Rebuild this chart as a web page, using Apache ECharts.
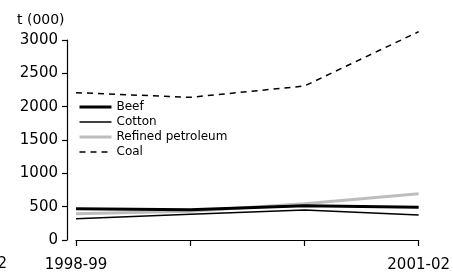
<!DOCTYPE html>
<html><head><meta charset="utf-8">
<script src="https://cdn.jsdelivr.net/npm/echarts@6/dist/echarts.min.js"></script>
<style>html,body{margin:0;padding:0;background:#fff}#c{width:453px;height:273px}</style>
</head><body><div id="c"></div>
<script>
const categories = ['1998-99', '1999-00', '2000-01', '2001-02'];
const beef = [470, 455, 515, 490];
const cotton = [320, 385, 450, 375];
const refined = [395, 430, 545, 695];
const coal = [2210, 2140, 2310, 3125];
const yTicks = [0, 500, 1000, 1500, 2000, 2500, 3000];

const font = 'DejaVu Sans';
const chart = echarts.init(document.getElementById('c'));
chart.setOption({
  animation: false,
  textStyle: {fontFamily: font},
  grid: {left: 76, right: 31, top: 40, bottom: 33},
  legend: {
    orient: 'vertical', left: 73, top: 96, itemGap: 3,
    itemWidth: 32, itemHeight: 12, itemStyle: {opacity: 0},
    textStyle: {fontFamily: font, fontSize: 12, color: '#000'},
    data: [
      {name: 'Beef', lineStyle: {color: '#000', width: 3, type: 'solid'}},
      {name: 'Cotton', lineStyle: {color: '#000', width: 1.5, type: 'solid'}},
      {name: 'Refined petroleum', lineStyle: {color: '#bdbdbd', width: 3, type: 'solid'}},
      {name: 'Coal', lineStyle: {color: '#000', width: 1.5, type: [6, 5]}}
    ]
  },
  graphic: [
    {type: 'text', left: 17, top: 13, style: {text: 't (000)', font: '14px ' + font, fill: '#000'}},
    {type: 'text', x: 7, y: 257, style: {text: '2001-02', font: '15px ' + font, fill: '#000', align: 'right'}}
  ],
  xAxis: {
    type: 'category', data: categories, boundaryGap: false, offset: 8,
    axisLine: {lineStyle: {color: '#000', width: 1.2}},
    axisTick: {inside: false, length: 6, interval: 0, lineStyle: {color: '#000', width: 1.2}},
    axisLabel: {interval: 2, color: '#000', fontSize: 15, fontFamily: font, margin: 10},
    splitLine: {show: false}
  },
  yAxis: {
    type: 'value', min: yTicks[0], max: yTicks[yTicks.length - 1], interval: 500, offset: 9,
    axisLine: {show: true, lineStyle: {color: '#000', width: 1.2}},
    axisTick: {show: true, length: 5, lineStyle: {color: '#000', width: 1.2}},
    axisLabel: {color: '#000', fontSize: 15, fontFamily: font, margin: 9, formatter: v => String(v)},
    splitLine: {show: false}
  },
  series: [
    {name: 'Beef', type: 'line', data: beef, symbol: 'none', clip: false, lineStyle: {color: '#000', width: 3}, itemStyle: {color: '#000'}, z: 4},
    {name: 'Cotton', type: 'line', data: cotton, symbol: 'none', clip: false, lineStyle: {color: '#000', width: 1.5}, itemStyle: {color: '#000'}, z: 3},
    {name: 'Refined petroleum', type: 'line', data: refined, symbol: 'none', clip: false, lineStyle: {color: '#bdbdbd', width: 3}, itemStyle: {color: '#bdbdbd'}, z: 2},
    {name: 'Coal', type: 'line', data: coal, symbol: 'none', clip: false, lineStyle: {color: '#000', width: 1.5, type: [6, 5]}, itemStyle: {color: '#000'}, z: 1}
  ]
});
</script></body></html>
